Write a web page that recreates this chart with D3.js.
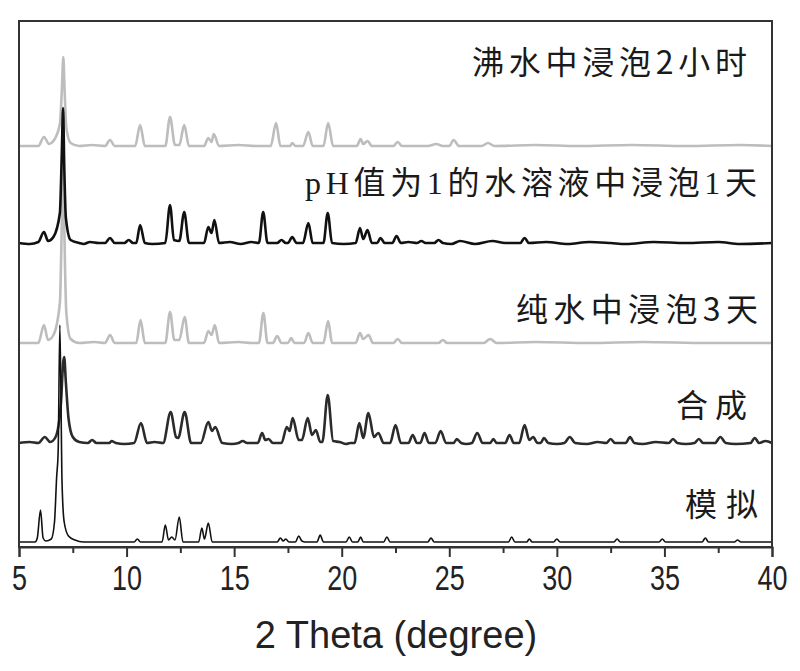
<!DOCTYPE html>
<html><head><meta charset="utf-8">
<script src="https://cdn.jsdelivr.net/npm/d3@7/dist/d3.min.js"></script>
<style>html,body{margin:0;padding:0;background:#fff;}svg{display:block;}</style>
</head><body>
<svg id="chart" width="800" height="671"></svg>
<script>
// ---------- DATA (2θ in degrees, intensity in arbitrary units) ----------
const seriesNames = ["沸水中浸泡2小时","pH值为1的水溶液中浸泡1天","纯水中浸泡3天","合成","模拟"];
const seriesOffsets = [401, 304, 204, 104, 5];
const xTickLabels = [5,10,15,20,25,30,35,40];
const xMinorTicks = [7.5,12.5,17.5,22.5,27.5,32.5,37.5];
const xTitle = "2 Theta (degree)";

const boil2h = [[5,0],[5.9,0],[6.16,9],[6.4,2],[6.6,5],[6.9,22],[7.0,60],[7.06,89],[7.12,55],[7.2,18],[7.4,3],[7.8,0],
 [8.4,1],[9.0,0],[9.23,6],[9.45,0],[10.4,0],[10.63,21],[10.85,0],
 [11.8,0],[12.02,29],[12.25,1],[12.45,1],[12.68,21],[12.9,0],
 [13.6,0],[13.8,8],[13.95,4],[14.05,12],[14.3,0],[15.2,1],[16.0,0],
 [16.7,0],[16.95,23],[17.15,0],[17.6,0],[17.7,3],[17.85,0],
 [18.2,0],[18.45,14],[18.65,0],[19.15,0],[19.37,23],[19.6,0],
 [20.7,0],[20.88,7],[21.0,2],[21.2,5],[21.4,0],[22.4,0],[22.6,4],[22.8,0],
 [24.0,0],[24.4,2],[24.7,0],[25.0,0],[25.2,6],[25.45,0],[26.5,0],[26.8,3],[27.1,0],
 [29.0,1],[31.0,0],[33.5,1],[36.0,0],[38.5,1],[40,0]];

const ph1day = [[5,0],[5.5,-1],[5.9,1],[6.16,11],[6.35,2],[6.6,6],[6.9,30],[6.99,90],[7.05,135],[7.1,80],[7.18,25],[7.4,3],[7.8,0],[8.0,-1],[8.3,1],[8.7,0],
 [9.0,0],[9.23,5],[9.45,0],[9.9,0],[10.1,3],[10.3,0],[10.45,0],[10.63,18],[10.85,0],
 [11.2,-1],[11.8,0],[12.02,38],[12.2,3],[12.45,2],[12.68,31],[12.9,0],
 [13.6,0],[13.8,16],[13.95,10],[14.08,23],[14.3,0],[14.8,1],[15.3,-1],[15.8,1],
 [16.15,0],[16.35,31],[16.55,0],[17.0,0],[17.2,3],[17.4,0],[17.5,0],[17.7,6],[17.9,0],
 [18.2,0],[18.45,20],[18.65,0],[19.15,0],[19.35,30],[19.55,0],[20.1,-1],
 [20.65,0],[20.85,15],[21.0,4],[21.2,13],[21.4,0],
 [21.65,0],[21.8,5],[22.0,0],[22.35,0],[22.55,7],[22.75,0],
 [23.1,1],[23.5,0],[23.7,2],[23.9,0],[24.3,0],[24.5,3],[24.7,0],[25.1,-1],[25.5,2],[26.2,-1],[27.0,2],[27.6,0],
 [28.3,0],[28.5,5],[28.7,0],[29.5,1],[30.5,-1],[31.5,1],[32.5,0],[33.2,-1],[34.5,1],[36.0,0],[37.5,1],[38.5,-1],[40,0]];

const pure3day = [[5,0],[5.9,0],[6.16,18],[6.35,3],[6.6,8],[6.9,40],[6.99,120],[7.05,190],[7.11,110],[7.2,30],[7.4,4],[7.8,0],
 [8.5,1],[9.0,0],[9.23,8],[9.45,0],[10.45,0],[10.65,23],[10.85,0],
 [11.8,0],[12.02,31],[12.22,3],[12.45,3],[12.7,26],[12.9,0],
 [13.6,0],[13.8,12],[13.95,8],[14.1,18],[14.3,0],[15.2,1],[15.8,0],
 [16.15,0],[16.36,30],[16.55,0],[16.8,0],[17.0,7],[17.2,0],[17.5,0],[17.65,5],[17.8,0],
 [18.25,0],[18.45,10],[18.65,0],[19.15,0],[19.37,22],[19.55,0],
 [20.65,0],[20.85,10],[21.0,4],[21.25,8],[21.45,0],[22.4,0],[22.6,4],[22.8,0],
 [24.5,0],[24.7,3],[24.9,0],[26.6,0],[26.9,4],[27.2,0],[29.0,1],[31.5,0],[34.0,1],[37.0,0],[40,0]];

const synth = [[5,0],[5.5,1],[5.9,0],[6.2,6],[6.45,1],[6.7,6],[6.95,40],[7.05,80],[7.1,86],[7.18,60],[7.3,25],[7.5,6],[7.8,1],[8.2,0],[8.4,3],[8.6,0],
 [9.2,0],[9.3,2],[9.5,0],[9.9,-1],[10.35,0],[10.67,20],[10.95,0],
 [11.3,1],[11.7,0],[12.05,31],[12.3,6],[12.4,5],[12.7,31],[13.0,0],
 [13.45,0],[13.8,21],[13.97,12],[14.12,16],[14.45,0],[14.9,-1],[15.2,0],[15.4,2],[15.6,0],
 [16.1,0],[16.3,10],[16.45,3],[16.6,4],[16.8,0],
 [17.2,0],[17.45,16],[17.58,12],[17.72,25],[18.0,3],[18.15,3],[18.42,25],[18.62,8],[18.8,13],[19.0,1],[19.1,1],[19.35,48],[19.6,2],[19.9,1],[20.2,-1],[20.4,0],
 [20.6,0],[20.82,20],[21.0,5],[21.24,30],[21.5,6],[21.7,10],[21.95,0],[22.25,0],[22.5,18],[22.75,0],
 [23.1,0],[23.3,8],[23.5,0],[23.65,0],[23.85,10],[24.05,0],[24.35,0],[24.6,12],[24.85,0],
 [25.2,0],[25.35,4],[25.55,0],[25.8,-1],[26.05,0],[26.3,10],[26.55,0],[26.9,0],[27.05,4],[27.2,0],
 [27.6,0],[27.8,8],[28.0,0],[28.25,0],[28.5,18],[28.72,3],[28.9,6],[29.1,0],[29.25,0],[29.4,5],[29.6,0],
 [30.0,-1],[30.35,0],[30.6,6],[30.85,0],[31.4,-1],[31.9,1],[32.3,0],[32.5,4],[32.7,0],[33.2,0],[33.4,6],[33.6,0],
 [34.0,-1],[34.6,1],[35.2,0],[35.4,4],[35.6,0],[36.0,-1],[36.4,0],[36.6,4],[36.8,0],[37.35,0],[37.6,6],[37.85,0],
 [38.3,-1],[39.0,0],[39.2,5],[39.4,0],[39.7,2],[40,0]];

const simulated = [[5,0],[5.75,0],[5.85,4],[6.0,32],[6.12,4],[6.25,1],[6.5,3],[6.65,20],[6.75,65],[6.82,90],[6.9,217],[7.0,60],[7.1,20],[7.3,6],[7.6,2],[8.0,0],
 [10.35,0],[10.5,3],[10.65,0],
 [11.65,0],[11.8,17],[11.95,2],[12.1,5],[12.25,2],[12.45,25],[12.62,0],
 [13.35,0],[13.5,14],[13.62,3],[13.8,19],[13.98,0],
 [17.0,0],[17.15,4],[17.28,1],[17.4,3],[17.55,0],[17.85,0],[18.0,6],[18.15,1],[18.3,0],
 [18.85,0],[19.0,7],[19.15,0],[20.2,0],[20.35,5],[20.5,0],[20.75,0],[20.88,5],[21.0,0],
 [21.95,0],[22.1,5],[22.25,0],[24.0,0],[24.15,4],[24.3,0],
 [27.75,0],[27.9,5],[28.05,0],[28.6,0],[28.72,3],[28.85,0],[29.85,0],[30.0,3],[30.15,0],
 [32.65,0],[32.8,3],[32.95,0],[34.75,0],[34.9,3],[35.05,0],[36.75,0],[36.9,4],[37.05,0],
 [38.25,0],[38.4,2],[38.55,0],[40,0]];

const seriesData = [boil2h, ph1day, pure3day, synth, simulated];

// ---------- STYLE / LAYOUT ----------
const styles = [
  {color:"#bdbdbd", width:2.6},
  {color:"#111111", width:2.6},
  {color:"#bdbdbd", width:2.6},
  {color:"#2b2b2b", width:2.6},
  {color:"#111111", width:1.6}
];
const labelPos = [
  {x:747, y:60, len:275, font:"'Noto Sans CJK SC', sans-serif"},
  {x:757, y:183, len:452, font:"'Liberation Serif', 'Noto Sans CJK SC', serif"},
  {x:758, y:307, len:242, font:"'Noto Sans CJK SC', sans-serif"},
  {x:747, y:403, len:71, font:"'Noto Sans CJK SC', sans-serif"},
  {x:758, y:502, len:73, font:"'Noto Sans CJK SC', sans-serif"}
];
const drawOrder = [0, 2, 1, 3, 4];

const svg = d3.select("#chart");
const L = 19, R = 772, T = 21, B = 547;
const x = d3.scaleLinear().domain([5, 40]).range([L, R]);
const y = d3.scaleLinear().domain([0, B - T]).range([B, T]);

const line = d3.line().x(d => x(d[0])).curve(d3.curveMonotoneX);

drawOrder.forEach(i => {
  const off = seriesOffsets[i];
  svg.append("path")
    .datum(seriesData[i])
    .attr("fill", "none")
    .attr("stroke", styles[i].color)
    .attr("stroke-width", styles[i].width)
    .attr("stroke-linejoin", "round")
    .attr("d", line.y(d => y(d[1] + off)));
});

// frame
svg.append("rect").attr("x", L).attr("y", T).attr("width", R - L).attr("height", B - T)
  .attr("fill", "none").attr("stroke", "#333").attr("stroke-width", 2);

// axis
const axis = d3.axisBottom(x).tickValues(xTickLabels).tickSize(10).tickPadding(8)
  .tickFormat(d3.format("d"));
const gAx = svg.append("g").attr("transform", `translate(0,${B})`).call(axis);
gAx.select(".domain").attr("stroke", "#333").attr("stroke-width", 2);
gAx.selectAll(".tick line").attr("stroke", "#333").attr("stroke-width", 2);
gAx.selectAll(".tick text")
  .attr("fill", "#222")
  .style("font-family", "'Liberation Sans', Arial, sans-serif")
  .style("font-size", "35px")
  .attr("textLength", d => String(d).length * 15)
  .attr("lengthAdjust", "spacingAndGlyphs");

const axMinor = d3.axisBottom(x).tickValues(xMinorTicks).tickSize(6).tickFormat("");
const gMin = svg.append("g").attr("transform", `translate(0,${B})`).call(axMinor);
gMin.select(".domain").remove();
gMin.selectAll(".tick line").attr("stroke", "#333").attr("stroke-width", 2);

// axis title
svg.append("text").attr("x", 396).attr("y", 648).attr("text-anchor", "middle")
  .style("font-family", "'Liberation Sans', Arial, sans-serif").style("font-size", "38px")
  .attr("fill", "#222").text(xTitle);

// series labels
seriesNames.forEach((name, i) => {
  const p = labelPos[i];
  svg.append("text").attr("x", p.x - p.len).attr("y", p.y)
    .attr("dominant-baseline", "central")
    .attr("textLength", p.len).attr("lengthAdjust", "spacing")
    .style("font-family", p.font).style("font-size", "32px")
    .attr("fill", "#1a1a1a").text(name);
});
</script>
</body></html>
